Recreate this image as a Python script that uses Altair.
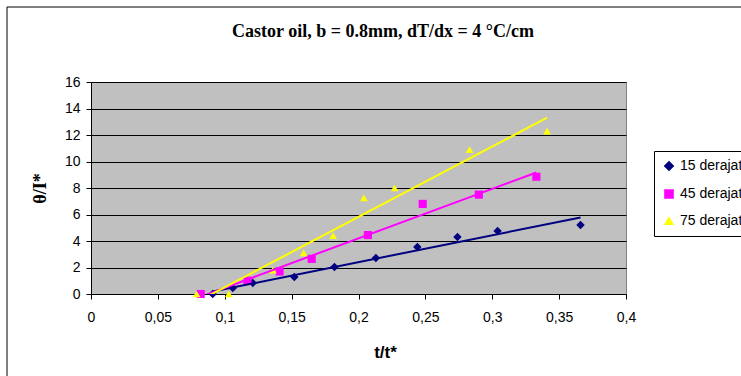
import altair as alt
import pandas as pd

# Measured samples, one list pair per temperature series
x_15 = [0.091, 0.106, 0.121, 0.152, 0.182, 0.213, 0.244, 0.274, 0.304, 0.366]
y_15 = [0.0, 0.45, 0.83, 1.28, 2.04, 2.72, 3.55, 4.30, 4.75, 5.20]

x_45 = [0.082, 0.117, 0.141, 0.165, 0.207, 0.248, 0.290, 0.333]
y_45 = [0.0, 1.0, 1.7, 2.65, 4.45, 6.8, 7.5, 8.85]

x_75 = [0.079, 0.103, 0.136, 0.159, 0.181, 0.204, 0.227, 0.283, 0.341]
y_75 = [0.0, 0.0, 1.8, 3.1, 4.4, 7.25, 8.0, 10.9, 12.3]

series_names = ["15 derajat", "45 derajat", "75 derajat"]
series_colors = ["#000080", "#FF00FF", "#FFFF00"]
series_shapes = ["diamond", "square", "triangle-up"]
series_sizes = [72, 60, 150]

x_ticks = [0, 0.05, 0.1, 0.15, 0.2, 0.25, 0.3, 0.35, 0.4]
y_ticks = [0, 2, 4, 6, 8, 10, 12, 14, 16]

chart_title = "Castor oil, b = 0.8mm, dT/dx = 4 °C/cm"

rows = []
for name, xs, ys in zip(series_names, [x_15, x_45, x_75], [y_15, y_45, y_75]):
    for xv, yv in zip(xs, ys):
        rows.append({"series": name, "x": xv, "y": yv})
df = pd.DataFrame(rows)

x_scale = alt.Scale(domain=[0, 0.4], nice=False, zero=False)
y_scale = alt.Scale(domain=[0, 16], nice=False)

x_axis = alt.Axis(
    values=x_ticks, title="t/t*", grid=False, labelOverlap=False,
    labelExpr="replace(format(datum.value, '~g'), '.', ',')",
    labelFont="Liberation Sans", labelFontSize=14, labelColor="#000",
    labelPadding=11, tickSize=5, tickColor="#000", domainColor="#000",
    labelFlush=False,
    titleFont="Liberation Sans", titleFontSize=17, titleFontWeight="bold",
    titleColor="#000", titleX=294, titleY=58, titleBaseline="middle",
    titleAnchor="start", titleAlign="center",
)
y_axis = alt.Axis(
    values=y_ticks, title="θ/I*", grid=True, gridColor="#000", gridWidth=1,
    labelOverlap=False, labelFlush=False,
    labelFont="Liberation Sans", labelFontSize=14, labelColor="#000",
    labelPadding=6, tickSize=5, tickColor="#000", domainColor="#000",
    titleFont="Liberation Serif", titleFontSize=18, titleFontWeight="bold",
    titleColor="#000", titleX=-51, titleY=106, titleBaseline="middle",
    titleAlign="center", titleAnchor="start",
)

color_scale = alt.Scale(domain=series_names, range=series_colors)

one_row = pd.DataFrame({"label": [chart_title]})

# Chart-area frame around everything
frame = alt.Chart(one_row).mark_rect(
    fill=None, stroke="#000", strokeWidth=1
).encode(
    x=alt.value(-84), x2=alt.value(800), y=alt.value(-75), y2=alt.value(400)
)

title_text = alt.Chart(one_row).mark_text(
    font="Liberation Serif", fontSize=18, fontWeight="bold", color="#000",
    align="center", baseline="middle",
).encode(
    x=alt.value(292), y=alt.value(-50), text="label:N"
)

points = alt.Chart(df).mark_point(filled=True, opacity=1).encode(
    x=alt.X("x:Q", scale=x_scale, axis=x_axis),
    y=alt.Y("y:Q", scale=y_scale, axis=y_axis),
    color=alt.Color(
        "series:N", scale=color_scale,
        legend=alt.Legend(
            title=None, orient="none", legendX=563, legendY=69,
            strokeColor="#000", fillColor="#fff", padding=8,
            rowPadding=12, labelFont="Liberation Sans", labelFontSize=14,
            labelColor="#000", symbolSize=45, labelLimit=300, labelOffset=4,
        ),
    ),
    shape=alt.Shape("series:N", scale=alt.Scale(domain=series_names, range=series_shapes)),
    size=alt.Size("series:N", scale=alt.Scale(domain=series_names, range=series_sizes), legend=None),
)

trend = alt.Chart(df).transform_regression(
    "x", "y", groupby=["series"]
).mark_line(strokeWidth=2, clip=True).encode(
    x=alt.X("x:Q", scale=x_scale, axis=x_axis),
    y=alt.Y("y:Q", scale=y_scale, axis=y_axis),
    stroke=alt.Stroke("series:N", scale=color_scale, legend=None),
)

chart = alt.layer(frame, title_text, points, trend).properties(
    width=535,
    height=212,
    autosize=alt.AutoSizeParams(type="none"),
    padding={"left": 91, "top": 82, "right": 115, "bottom": 82},
    background="#fff",
).configure_view(
    fill="#C0C0C0", stroke="#808080", strokeWidth=1
)

chart.save("out.html", embed_options={"renderer": "svg", "actions": False})
